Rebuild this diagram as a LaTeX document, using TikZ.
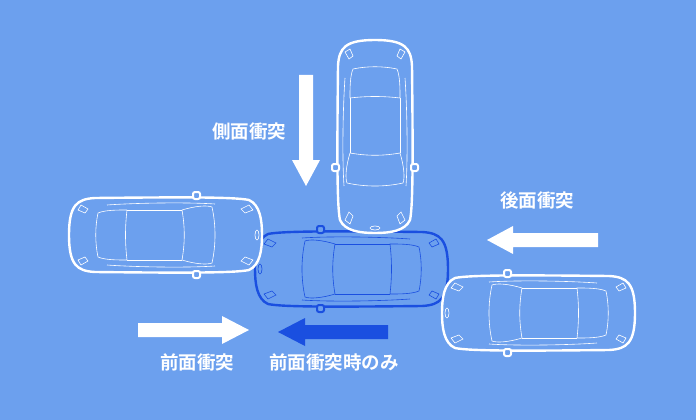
\documentclass[tikz,border=0pt]{standalone}
\usepackage{fontspec}
\newfontfamily\jp{Noto Sans CJK JP}[BoldFont={Noto Sans CJK JP Bold}]
\definecolor{bg}{HTML}{6CA0EE}
\definecolor{dblue}{HTML}{1A4FE0}
\begin{document}
\begin{tikzpicture}[x=1pt,y=-1pt,
  lbl/.style={text=white,font=\jp\bfseries\fontsize{18.5}{22}\selectfont},
  arr/.style={fill=white,draw=none},
  car/.pic={
    \draw[line width=2.4pt,fill=bg] (-70,-37) .. controls (20,-38) and (70,-38) .. (84,-35) .. controls (95,-30) and (97,-15) .. (97,0) .. controls (97,15) and (95,30) .. (84,35) .. controls (70,38) and (20,38) .. (-70,37) .. controls (-88,36) and (-96,30) .. (-96,0) .. controls (-96,-30) and (-88,-36) .. (-70,-37) -- cycle;
    \begin{scope}[line width=0.6pt]
      \draw (17,-25) .. controls (30,-29) and (42,-30) .. (47,-28) .. controls (51,-10) and (51,10) .. (47,28) .. controls (42,30) and (30,29) .. (17,25) .. controls (20,8) and (20,-8) .. (17,-25);
      \draw (-38,-25) .. controls (-48,-25) and (-60,-25) .. (-67,-22) .. controls (-70,-8) and (-70,8) .. (-67,22) .. controls (-60,25) and (-48,25) .. (-38,25) .. controls (-40,8) and (-40,-8) .. (-38,-25);
      \draw (50,-31) .. controls (20,-33) and (-30,-32) .. (-58,-30);
      \draw (50,31) .. controls (20,33) and (-30,32) .. (-58,30);
      \draw (17,-25) -- (-38,-25); \draw (17,25) -- (-38,25);
      \draw (84,-30) -- (76,-26) -- (80,-22) -- (88,-25) -- cycle;
      \draw (84,30) -- (76,26) -- (80,22) -- (88,25) -- cycle;
      \draw (-84,-30) -- (-77,-26) -- (-80,-22) -- (-87,-25) -- cycle;
      \draw (-84,30) -- (-77,26) -- (-80,22) -- (-87,25) -- cycle;
      \draw (92,0) ellipse (2 and 5);
    \end{scope}
    \draw[line width=2pt,fill=bg,rounded corners=2pt] (28,-36) rectangle (35,-43);
    \draw[line width=2pt,fill=bg,rounded corners=2pt] (28,36) rectangle (35,43);
  }]
\fill[bg] (0,0) rectangle (696,420);
\useasboundingbox (0,0) rectangle (696,420);
% cars
\pic[draw=dblue,rotate=180] (cc) at (352,269) {car};
\pic[draw=white] (cl) at (165,235) {car};
\pic[draw=white,rotate=180] (cr) at (539,313) {car};
\pic[draw=white,rotate=-90] (ct) at (375,136) {car};
% arrows
\fill[arr] (299,75) -- (313,75) -- (313,160) -- (320,160) -- (306,186) -- (292,160) -- (299,160) -- cycle;
\fill[arr] (598,233) -- (598,247) -- (513,247) -- (513,254) -- (487,240) -- (513,226) -- (513,233) -- cycle;
\fill[arr] (138,323) -- (222,323) -- (222,316) -- (249,330) -- (222,344) -- (222,337) -- (138,337) -- cycle;
\fill[dblue] (388,325) -- (388,339) -- (305,339) -- (305,346) -- (278,332) -- (305,318) -- (305,325) -- cycle;
% labels
\node[lbl] (t1) at (249,131) {側面衝突};
\node[lbl] (t2) at (537,200) {後面衝突};
\node[lbl] (t3) at (197,362) {前面衝突};
\node[lbl] (t4) at (334,362) {前面衝突時のみ};
\end{tikzpicture}
\end{document}
